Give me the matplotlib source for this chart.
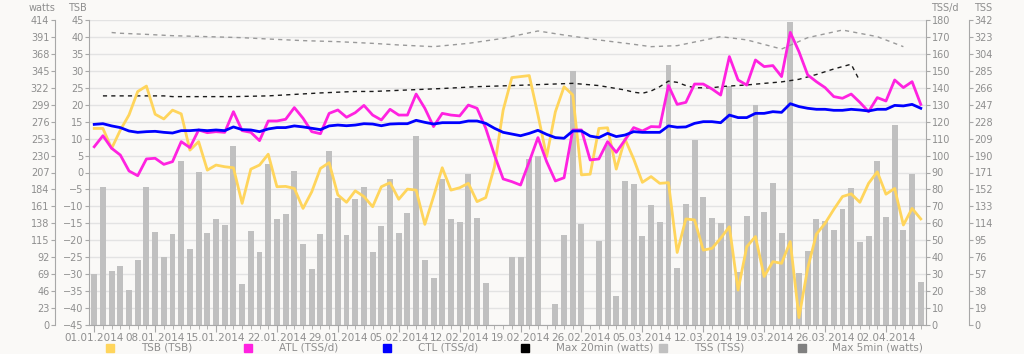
import numpy as np
import matplotlib
matplotlib.use("Agg")
import matplotlib.pyplot as plt
from matplotlib.patches import Rectangle
from matplotlib.ticker import MultipleLocator

# daily values, 01.01.2014 .. 06.04.2014
tss = [57, 155, 61, 66, 39, 73, 155, 104, 76, 102,
       184, 85, 172, 103, 119, 112, 201, 46, 105, 82,
       181, 119, 125, 173, 91, 63, 102, 195, 142, 101,
       141, 155, 82, 111, 164, 103, 126, 212, 73, 53,
       164, 119, 116, 169, 120, 47, 0, 0, 76, 76,
       186, 190, 0, 24, 101, 285, 113, 0, 94, 202,
       33, 162, 158, 100, 134, 116, 291, 64, 136, 207,
       143, 120, 114, 268, 59, 122, 247, 127, 159, 103,
       340, 58, 83, 119, 117, 106, 130, 154, 93, 100,
       184, 121, 224, 107, 169, 48]

atl = [105.2, 111.7, 104.3, 100.3, 90.9, 88.1, 98.0, 98.4, 94.8, 96.4,
       108.2, 104.7, 115.1, 113.5, 114.1, 113.7, 125.9, 114.7, 113.7, 108.8,
       120.4, 120.4, 121.4, 128.3, 122.0, 114.1, 112.9, 124.9, 126.9, 122.6,
       125.3, 129.6, 123.9, 121.0, 127.3, 123.9, 123.9, 136.3, 127.9, 117.1,
       124.9, 123.9, 123.4, 129.8, 127.9, 116.1, 100.3, 86.2, 84.6, 82.6,
       96.4, 110.6, 96.4, 85.0, 86.9, 115.1, 115.1, 97.4, 98.0, 108.2,
       101.9, 109.2, 116.5, 114.5, 117.1, 116.9, 141.3, 130.2, 131.4, 142.2,
       142.2, 139.3, 135.7, 158.4, 144.6, 141.6, 156.4, 152.5, 153.1, 146.6,
       172.7, 161.3, 147.6, 143.6, 140.1, 134.8, 133.8, 136.3, 131.4, 125.9,
       134.2, 132.2, 144.6, 140.1, 143.6, 130.2]

ctl = [118.4, 118.8, 117.5, 116.5, 114.5, 113.7, 114.1, 114.3, 113.7, 113.3,
       114.7, 114.7, 115.1, 114.7, 115.1, 114.7, 116.9, 115.3, 115.1, 114.1,
       115.7, 116.5, 116.5, 117.5, 116.9, 116.1, 115.3, 117.5, 118.0, 117.6,
       118.0, 118.8, 118.6, 117.6, 118.6, 118.8, 118.8, 120.8, 119.6, 118.6,
       119.4, 119.4, 119.4, 120.4, 120.4, 119.0, 116.1, 113.7, 112.7, 111.7,
       113.1, 114.9, 112.5, 110.6, 110.2, 114.5, 114.5, 111.5, 110.6, 113.1,
       111.2, 112.1, 114.1, 113.7, 113.7, 113.7, 117.5, 116.7, 116.9, 119.0,
       120.0, 120.0, 119.4, 123.9, 122.4, 122.4, 124.9, 124.9, 125.9, 125.5,
       130.6, 128.9, 127.9, 127.3, 127.3, 126.7, 126.7, 127.3, 126.9, 126.3,
       127.3, 127.3, 129.6, 129.3, 130.2, 127.9]

tsb = [13.0, 13.0, 7.1, 12.5, 17.0, 23.9, 25.5, 17.2, 15.8, 18.4,
       17.3, 6.6, 9.1, 0.7, 2.2, 1.7, 1.4, -9.1, 1.0, 2.2,
       5.4, -4.2, -4.1, -4.7, -10.6, -5.7, 1.2, 2.9, -6.6, -8.8,
       -5.4, -7.1, -10.1, -4.2, -3.0, -7.9, -4.9, -5.2, -15.3, -7.1,
       1.4, -5.2, -4.5, -3.2, -8.6, -7.4, 1.7, 18.4, 28.0, 28.3,
       28.6, 17.0, 4.7, 17.9, 25.3, 22.9, -0.7, -0.5, 13.0, 13.2,
       1.0, 9.9, 4.0, -2.9, -1.2, -3.2, -3.0, -23.6, -13.7, -14.0,
       -22.9, -22.4, -19.4, -16.0, -34.7, -21.9, -18.9, -30.7, -26.3, -26.8,
       -20.4, -42.8, -28.3, -18.2, -15.0, -10.9, -7.1, -6.3, -8.8, -3.2,
       0.2, -6.4, -4.7, -15.5, -10.6, -13.7]

max20_days = [1, 3, 6, 8, 9, 12, 16, 20, 23, 26, 28, 30, 32, 36, 40, 44, 48, 52,
              55, 56, 58, 60, 61, 62, 63, 64, 65, 66, 67, 68, 69, 71, 72, 73, 75,
              77, 79, 81, 83, 85, 87, 88]
max20 = [311, 311, 311, 311, 310, 310, 310, 311, 313, 315, 316, 317, 317, 319,
         321, 323.5, 325, 326.7, 328, 327, 325, 321, 319, 316, 314.5, 317.6,
         323.5, 331, 329.4, 325, 322, 322, 323.5, 324.4, 325.8, 328, 330, 333.5,
         340, 347.5, 354, 331]

max5_days = [2, 3, 6, 9, 13, 17, 20, 24, 28, 32, 35, 39, 43, 47, 51, 54, 58, 62,
             64, 67, 72, 75, 79, 82, 86, 90, 93]
max5 = [397, 396, 394.5, 392.7, 391.4, 390, 388.2, 386, 384.6, 382.3, 380.1,
        377.8, 382.3, 389.1, 399.1, 393.6, 386.9, 381, 377.8, 379.2, 391.4, 387,
        374.6, 390, 400.4, 391.4, 377.8]

tick_labels = ['01.01.2014', '08.01.2014', '15.01.2014', '22.01.2014', '29.01.2014',
               '05.02.2014', '12.02.2014', '19.02.2014', '26.02.2014', '05.03.2014',
               '12.03.2014', '19.03.2014', '26.03.2014', '02.04.2014']

legend_names = ['TSB (TSB)', 'ATL (TSS/d)', 'CTL (TSS/d)', 'Max 20min (watts)',
                'TSS (TSS)', 'Max 5min (watts)']

BG = '#faf9f7'
GREY = '#8e8e8e'
SPINE = '#a8a8a8'
YELLOW = '#ffd55c'
MAGENTA = '#ff22e0'
BLUE = '#0000ff'
legend_colors = [YELLOW, MAGENTA, BLUE, '#000000', '#c0c0c0', '#808080']

W, H = 1024, 354
fig = plt.figure(figsize=(W / 100, H / 100), dpi=100, facecolor=BG)
L, R, B, T = 89 / W, 926 / W, (H - 325) / H, (H - 20) / H

# base axes: TSS bars + grid + dates
ax = fig.add_axes([L, B, R - L, T - B], facecolor=BG)
days = np.arange(len(tss))
ax.bar(days, tss, width=0.68, color='#c0c0c0', zorder=2)
ax.set_xlim(-0.6, 95.6)
ax.set_ylim(0, 342)
ax.set_yticks(np.arange(0, 343, 19))
ax.yaxis.grid(True, color='#e3e3e3', lw=1)
ax.set_axisbelow(True)
ax.set_xticks(np.arange(0, 92, 7))
ax.set_xticklabels(tick_labels)
ax.xaxis.set_minor_locator(MultipleLocator(1))
ax.tick_params(axis='x', which='major', length=5, width=0.8, colors=SPINE,
               labelcolor=GREY, labelsize=7.5, pad=1)
ax.tick_params(axis='x', which='minor', length=3, width=0.6, colors=SPINE)
ax.yaxis.tick_right()
for s in ['top', 'left']:
    ax.spines[s].set_visible(False)
ax.spines['bottom'].set_color(SPINE)
ax.spines['right'].set_color(SPINE)
ax.spines['right'].set_position(('outward', 31))
ax.tick_params(axis='y', length=3, width=0.8, colors=SPINE, labelcolor=GREY,
               labelsize=7, pad=1)


def overlay(side, offset, lo, hi, step):
    a = fig.add_axes([L, B, R - L, T - B], sharex=ax)
    a.patch.set_visible(False)
    a.xaxis.set_visible(False)
    for s in a.spines.values():
        s.set_visible(False)
    a.spines[side].set_visible(True)
    a.spines[side].set_color(SPINE)
    a.spines[side].set_position(('outward', offset))
    a.yaxis.set_ticks_position(side)
    a.set_ylim(lo, hi)
    a.set_yticks(np.arange(lo, hi + 0.1, step))
    a.tick_params(axis='y', length=3, width=0.8, colors=SPINE, labelcolor=GREY,
                  labelsize=7, pad=1)
    return a


ax_w = overlay('left', 24.5, 0, 414, 23)
ax_w.plot(max5_days, max5, color='#9a9a9a', lw=1, ls=(0, (3, 3)))
ax_w.plot(max20_days, max20, color='#1a1a1a', lw=1, ls=(0, (3, 3)))

ax_b = overlay('left', 0, -45, 45, 5)
ax_b.plot(days, tsb, color=YELLOW, lw=2)

ax_d = overlay('right', 0, 0, 180, 10)
ax_d.plot(days, atl, color=MAGENTA, lw=2)
ax_d.plot(days, ctl, color=BLUE, lw=2)

# axis titles
for x, txt in [(42, 'watts'), (77, 'TSB'), (945, 'TSS/d'), (983, 'TSS')]:
    fig.text(x / W, (H - 8) / H, txt, color=GREY, fontsize=7, ha='center', va='center')

# legend row
for i, (name, col) in enumerate(zip(legend_names, legend_colors)):
    cx = 110 + i * 138.3
    fig.add_artist(Rectangle(((cx - 4) / W, (H - 352) / H), 8 / W, 8 / H,
                             transform=fig.transFigure, color=col))
    fig.text((cx + 31) / W, (H - 348) / H, name, color=GREY, fontsize=7.5,
             ha='left', va='center')

fig.savefig('out.png', dpi=100, facecolor=BG)
